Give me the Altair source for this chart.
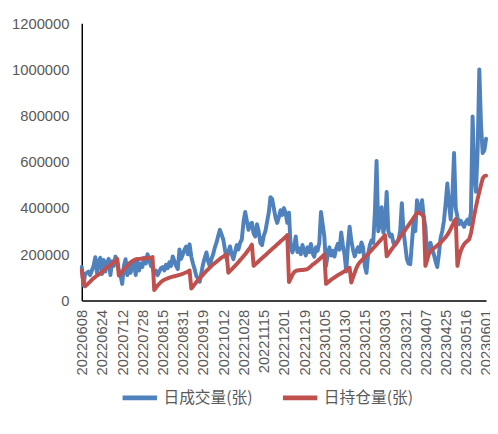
import altair as alt
import pandas as pd

# Trading calendar (China futures exchange), 2022-06-08 .. 2023-06-01
holidays = ["2022-09-12", "2022-10-03", "2022-10-04", "2022-10-05", "2022-10-06", "2022-10-07",
            "2023-01-02", "2023-01-23", "2023-01-24", "2023-01-25", "2023-01-26", "2023-01-27",
            "2023-04-05", "2023-05-01", "2023-05-02", "2023-05-03"]
dates = [d.strftime("%Y%m%d") for d in
         pd.bdate_range("2022-06-08", "2023-06-01", freq="C", holidays=holidays)]

tick_labels = ["20220608", "20220624", "20220712", "20220728", "20220815", "20220831",
               "20220919", "20221012", "20221028", "20221115", "20221201", "20221219",
               "20230105", "20230130", "20230215", "20230303", "20230321", "20230407",
               "20230425", "20230516", "20230601"]
y_ticks = [0, 200000, 400000, 600000, 800000, 1000000, 1200000]

series_names = ["日成交量(张)", "日持仓量(张)"]
colors = ["#4F81BD", "#C0504D"]

# daily volume, thousands of contracts
volume_k = [
    145, 65, 115, 120, 125, 110, 130, 150, 187, 120,
    170, 185, 115, 175, 125, 165, 180, 110, 170, 150,
    190, 175, 130, 110, 72, 150, 179, 110, 160, 120,
    150, 165, 110, 170, 130, 160, 145, 185, 160, 200,
    180, 150, 145, 115, 130, 110, 125, 140, 145, 130,
    155, 140, 166, 150, 191, 170, 150, 136, 221, 180,
    200, 220, 234, 200, 243, 190, 160, 136, 106, 95,
    81, 120, 157, 185, 208, 170, 149, 180, 200, 230,
    251, 280, 306, 285, 264, 220, 179, 210, 234, 200,
    179, 210, 240, 221, 250, 264, 340, 383, 345, 306,
    330, 336, 290, 277, 330, 300, 250, 240, 280, 300,
    340, 380, 447, 440, 400, 360, 336, 360, 391, 370,
    400, 380, 336, 380, 234, 208, 230, 277, 210, 225,
    200, 240, 215, 195, 230, 210, 245, 205, 190, 230,
    215, 250, 383, 330, 277, 149, 200, 230, 195, 215,
    190, 225, 245, 220, 294, 240, 200, 125, 240, 319,
    260, 220, 191, 215, 230, 210, 251, 230, 150, 120,
    200, 240, 260, 250, 380, 604, 300, 330, 404, 294,
    330, 470, 300, 277, 285, 250, 240, 250, 260, 300,
    421, 300, 240, 179, 160, 157, 250, 345, 300, 434,
    380, 400, 434, 360, 319, 200, 230, 250, 220, 200,
    170, 145, 200, 272, 300, 345, 420, 506, 420, 350,
    450, 638, 400, 362, 330, 345, 330, 319, 340, 350,
    330, 380, 796, 560, 470, 650, 1000, 760, 638, 650,
    700,
]

# daily open interest, thousands of contracts
oi_k = [
    130, 75, 62, 68, 75, 82, 90, 96, 102, 108,
    112, 118, 124, 130, 136, 142, 148, 153, 160, 166,
    172, 180, 108, 115, 125, 135, 142, 150, 158, 165,
    170, 175, 178, 180, 179, 181, 182, 181, 183, 185,
    184, 186, 188, 45, 55, 65, 72, 80, 86, 90,
    93, 96, 99, 101, 103, 105, 107, 109, 111, 113,
    116, 119, 122, 125, 130, 52, 60, 70, 80, 88,
    96, 104, 112, 120, 128, 135, 142, 150, 157, 162,
    168, 174, 180, 186, 190, 195, 200, 120, 128, 135,
    143, 150, 158, 166, 175, 183, 192, 200, 210, 220,
    230, 242, 150, 157, 163, 170, 177, 183, 190, 196,
    203, 210, 216, 223, 229, 236, 243, 249, 256, 262,
    269, 275, 283, 80, 95, 110, 122, 128, 130, 131,
    132, 132, 133, 134, 136, 142, 148, 155, 160, 166,
    172, 178, 185, 192, 200, 72, 78, 84, 90, 95,
    100, 105, 110, 114, 118, 122, 127, 132, 137, 142,
    78, 100, 120, 140, 155, 165, 172, 180, 188, 195,
    202, 210, 218, 226, 234, 242, 250, 258, 266, 274,
    283, 191, 201, 212, 222, 232, 243, 253, 264, 274,
    285, 295, 305, 316, 326, 337, 347, 358, 368, 379,
    380, 376, 372, 362, 150, 175, 200, 212, 220, 226,
    232, 238, 244, 250, 258, 266, 274, 284, 296, 310,
    325, 342, 352, 150, 190, 215, 232, 244, 252, 258,
    265, 290, 330, 370, 405, 440, 470, 500, 528, 538,
    540,
]

n = len(dates)
assert n == len(volume_k) == len(oi_k), (n, len(volume_k), len(oi_k))

df = pd.DataFrame({
    "date": dates + dates,
    "series": [series_names[0]] * n + [series_names[1]] * n,
    "value": [v * 1000 for v in volume_k] + [v * 1000 for v in oi_k],
})

chart = alt.Chart(df).mark_line(strokeWidth=4, strokeJoin="round", strokeCap="round").encode(
    x=alt.X("date:O",
            scale=alt.Scale(type="point", padding=0),
            axis=alt.Axis(values=tick_labels, labelAngle=270, title=None, ticks=False, tickSize=0,
                          labelPadding=9, labelFontSize=15, labelFont="Liberation Sans",
                          labelColor="#595959", domainColor="#000000", domainWidth=1.5,
                          grid=False, labelOverlap=False)),
    y=alt.Y("value:Q",
            scale=alt.Scale(domain=[0, 1200000], nice=False),
            axis=alt.Axis(values=y_ticks, format="d", title=None, ticks=False, tickSize=0,
                          labelPadding=13, labelFontSize=15, labelFont="Liberation Sans",
                          labelColor="#595959", domainColor="#000000", domainWidth=1.5,
                          grid=False)),
    color=alt.Color("series:N", sort=series_names,
                    scale=alt.Scale(domain=series_names, range=colors),
                    legend=alt.Legend(title=None, orient="none", legendX=39, legendY=361,
                                      direction="horizontal", symbolType="stroke",
                                      symbolSize=1225, symbolStrokeWidth=5,
                                      labelFontSize=16, labelFont="Noto Sans CJK SC",
                                      labelColor="#595959", labelOffset=4,
                                      columnPadding=20, labelLimit=200)),
).properties(
    width=411, height=282,
    padding={"left": 75, "top": 12, "right": 4, "bottom": 114},
    autosize=alt.AutoSizeParams(type="none"),
).configure_view(stroke=None)

chart.save("out.html", embed_options={"renderer": "svg", "actions": False})
